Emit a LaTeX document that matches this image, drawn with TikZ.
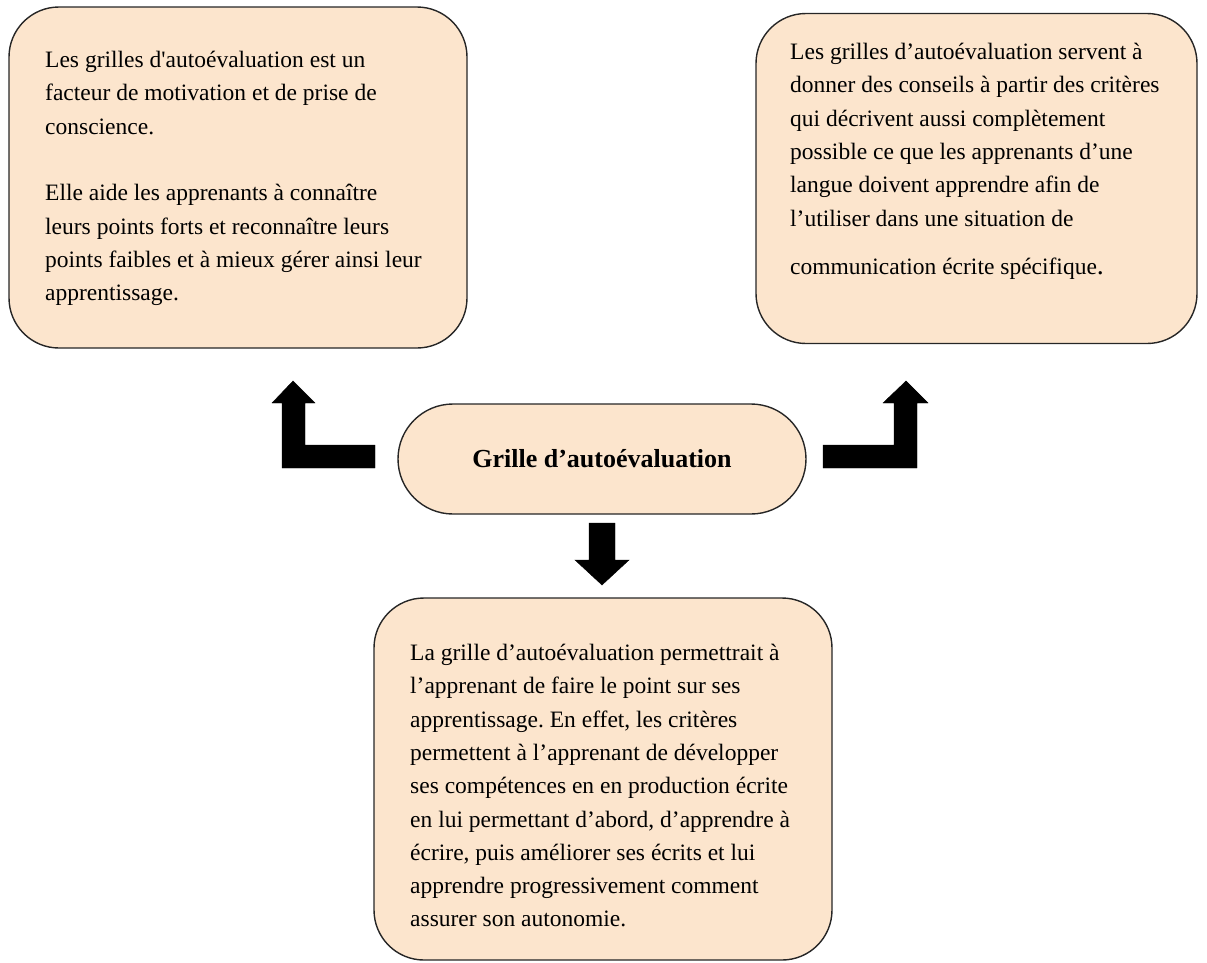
\documentclass[tikz,border=0pt]{standalone}
\usepackage{fontspec}
\setmainfont{Liberation Serif}
\usetikzlibrary{positioning}
\frenchspacing

\definecolor{peach}{HTML}{FCE5CD}
\tikzset{
  panel/.style={draw=black!85,line width=1.4pt,fill=peach,rounded corners=50pt,inner sep=0pt},
  panetext/.style={anchor=north west,inner sep=0pt,align=left,font=\fontsize{23.5}{33.3}\selectfont},
}

\begin{document}
\begin{tikzpicture}[x=1pt,y=-1pt]
\useasboundingbox (0,0) rectangle (1207,962);

% boxes
\node[panel,minimum width=458pt,minimum height=341pt] (tlbox) at (238,177.5) {};
\node[panel,minimum width=441pt,minimum height=330pt] (trbox) at (976.5,178.5) {};
\node[panel,minimum width=458pt,minimum height=362pt] (btbox) at (603,779) {};
\node[panel,rounded corners=55pt,minimum width=408pt,minimum height=110pt,
      font=\fontsize{26}{30}\selectfont\bfseries] (pill) at (602,459) {Grille d’autoévaluation};

% texts
\node[panetext] (tltext) at (45,51) {Les grilles d\textquotesingle autoévaluation est un\\
facteur de motivation et de prise de\\
conscience.\\[33.3pt]
Elle aide les apprenants à connaître\\
leurs points forts et reconnaître leurs\\
points faibles et à mieux gérer ainsi leur\\
apprentissage.};

\node[panetext] (trtext) at (790,43) {Les grilles d’autoévaluation servent à\\
donner des conseils à partir des critères\\
qui décrivent aussi complètement\\
possible ce que les apprenants d’une\\
langue doivent apprendre afin de\\
l’utiliser dans une situation de\\[15pt]
communication écrite spécifique{\fontsize{28}{33}\selectfont .}};

\node[panetext] (bttext) at (410,644) {La grille d’autoévaluation permettrait à\\
l’apprenant de faire le point sur ses\\
apprentissage. En effet, les critères\\
permettent à l’apprenant de développer\\
ses compétences en en production écrite\\
en lui permettant d’abord, d’apprendre à\\
écrire, puis améliorer ses écrits et lui\\
apprendre progressivement comment\\
assurer son autonomie.};

% block arrows
\path[draw,fill]%
(293,381)--(315,403)--(305,403)--(305,445)--(375,445)--(375,468)--(282,468)--(282,403)--(272,403)--cycle;
\path[draw,fill]%
(906,381)--(928,403)--(917,403)--(917,468)--(823,468)--(823,445)--(894,445)--(894,403)--(883,403)--cycle;
\path[draw,fill]%
(589,523)--(615,523)--(615,560)--(629,560)--(602,585)--(575,560)--(589,560)--cycle;

\end{tikzpicture}
\end{document}
